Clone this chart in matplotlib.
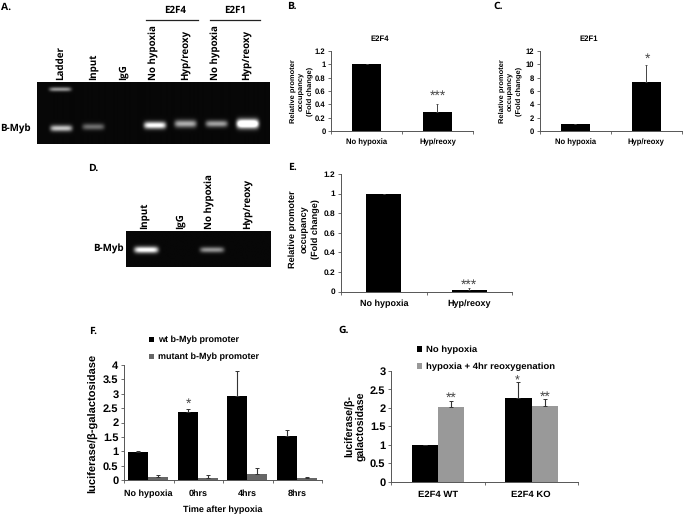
import matplotlib
matplotlib.use("Agg")
import matplotlib.pyplot as plt
import numpy as np

plt.rcParams["font.family"] = ["Liberation Sans", "DejaVu Sans"]
plt.rcParams["font.weight"] = "bold"
plt.rcParams["text.hinting"] = "no_hinting"

W, H = 683, 516

# bar data
cats_two = ["No hypoxia", "Hyp/reoxy"]
b_vals = [1, 0.28]
b_errs = [0, 0.12]
c_vals = [1, 7.4]
c_errs = [0, 2.5]
e_vals = [1, 0.02]
e_errs = [0, 0.02]

f_cats = ["No hypoxia", "0hrs", "4hrs", "8hrs"]
f_wt = [0.98, 2.38, 2.93, 1.54]
f_wt_err = [0.03, 0.1, 0.87, 0.2]
f_mut = [0.1, 0.08, 0.21, 0.06]
f_mut_err = [0.07, 0.1, 0.21, 0.05]

g_cats = ["E2F4 WT", "E2F4 KO"]
g_no = [1, 2.28]
g_no_err = [0, 0.42]
g_hyp = [2.03, 2.04]
g_hyp_err = [0.16, 0.2]

# gel bands: lane x, y, half width, half height, brightness (pixels of the figure)
gel_a_bands = [(60, 89, 11, 2.2, 0.55), (61, 128, 11, 3.2, 0.75), (93, 126.5, 11, 3.2, 0.4),
               (154.5, 125, 11, 3.6, 1.0), (185, 123.5, 11, 3.8, 0.65),
               (216, 123.5, 11, 3.4, 0.6), (247, 123.5, 11, 4.5, 1.4)]
gel_d_bands = [(145.5, 250, 12, 3.2, 1.0), (211, 250, 12, 2.8, 0.55)]


def px_axes(x0, y0, x1, y1):
    return fig.add_axes([x0 / W, 1 - y1 / H, (x1 - x0) / W, (y1 - y0) / H])


def style(ax, ymax, step_labels, size, n):
    ax.set_xlim(0, n)
    ax.set_ylim(0, ymax)
    ax.spines["top"].set_visible(False)
    ax.spines["right"].set_visible(False)
    for s in ["left", "bottom"]:
        ax.spines[s].set_color("#555555")
        ax.spines[s].set_linewidth(0.7)
    ax.set_yticks([float(t) for t in step_labels])
    ax.set_yticklabels(step_labels, fontsize=size)
    ax.set_xticks(range(n + 1))
    ax.set_xticklabels([])
    ax.tick_params(length=2, width=0.6, color="#555555", pad=2)


def two_bars(box, vals, errs, ymax, ticks, tick_size=5.5, cat_size=5.5, cat_off=0.09):
    ax = px_axes(*box)
    ax.bar([0.5, 1.5], vals, 0.41, color="black", yerr=[[0, 0], errs],
           ecolor="#444444", error_kw=dict(lw=0.7, capsize=1, capthick=0.6))
    style(ax, ymax, ticks, tick_size, 2)
    for i, c in enumerate(cats_two):
        ax.text(i + 0.5, -cat_off, c, transform=ax.get_xaxis_transform(), ha="center",
                va="top", fontsize=cat_size)
    return ax


def gel(x0, y0, x1, y1, bands):
    ax = px_axes(x0, y0, x1, y1)
    xs = np.arange(x0, x1, 0.5)
    ys = np.arange(y0, y1, 0.5)
    xx, yy = np.meshgrid(xs, ys)
    img = np.full(xx.shape, 0.03)
    for bx, by, hw, hh, b in bands:
        img += b * np.exp(-((xx - bx) / hw) ** 6) * np.exp(-((yy - by) / hh) ** 2)
    ax.imshow(img, cmap="gray", vmin=0, vmax=1, aspect="auto", interpolation="bilinear",
              extent=(x0, x1, y1, y0))
    ax.axis("off")


fig = plt.figure(figsize=(W / 100, H / 100), dpi=100)

# pixel overlay for the loose labels
ov = fig.add_axes([0, 0, 1, 1], zorder=10)
ov.set_xlim(0, W)
ov.set_ylim(H, 0)
ov.axis("off")
ov.patch.set_alpha(0)

gel(37, 82, 269.5, 144, gel_a_bands)
gel(125.5, 231, 270, 267, gel_d_bands)

for t, x, y in [("A.", 1, 7), ("B.", 287, 6), ("C.", 493, 6), ("D.", 88, 168),
                ("E.", 288, 167), ("F.", 89, 331), ("G.", 338, 330)]:
    ov.text(x, y, t, family="Open Sans", fontsize=7.5, weight="bold", ha="left", va="center")

lane_a = [("Ladder", 60, 80), ("Input", 93, 80), ("IgG", 123, 80), ("No hypoxia", 154, 80),
          ("Hyp/reoxy", 185, 80), ("No hypoxia", 216, 80), ("Hyp/reoxy", 246, 80)]
for t, x, y in lane_a:
    ov.text(x, y, t, family="Open Sans", fontsize=7, weight="bold", rotation=90,
            ha="center", va="bottom")
lane_d = [("Input", 144, 229), ("IgG", 180, 229), ("No hypoxia", 210, 229), ("Hyp/reoxy", 247, 229)]
for t, x, y in lane_d:
    ov.text(x, y, t, family="Open Sans", fontsize=7, weight="bold", rotation=90,
            ha="center", va="bottom")
ov.text(0, 128.5, "B-Myb", family="Open Sans", fontsize=7, weight="bold", va="center")
ov.text(93, 249.5, "B-Myb", family="Open Sans", fontsize=7, weight="bold", va="center")
ov.text(175, 10.5, "E2F4", family="Open Sans", fontsize=7, weight="bold", ha="center", va="center")
ov.text(235, 10, "E2F1", family="Open Sans", fontsize=7, weight="bold", ha="center", va="center")
ov.plot([146, 198], [19.5, 19.5], color="#222222", lw=0.9)
ov.plot([210, 259.5], [19.5, 19.5], color="#222222", lw=0.9)

# panels B, C, E
two_bars((331, 51, 473, 131), b_vals, b_errs, 1.2, ["0", "0.2", "0.4", "0.6", "0.8", "1", "1.2"])
two_bars((539.5, 51, 682, 131), c_vals, c_errs, 12, ["0", "2", "4", "6", "8", "10", "12"])
two_bars((341, 174, 512, 291.5), e_vals, e_errs, 1.2, ["0", "0.2", "0.4", "0.6", "0.8", "1", "1.2"],
         tick_size=6, cat_size=6.5, cat_off=0.07)

ylab = "Relative promoter\noccupancy\n(Fold change)"
ov.text(301, 91, ylab, rotation=90, fontsize=5.4, ha="center", va="center", linespacing=1.4)
ov.text(510, 91, ylab, rotation=90, fontsize=5.4, ha="center", va="center", linespacing=1.4)
ov.text(304, 229, ylab, rotation=90, fontsize=6.6, ha="center", va="center", linespacing=1.45)
ov.text(380, 39, "E2F4", fontsize=5.6, ha="center", va="center")
ov.text(589, 39, "E2F1", fontsize=5.6, ha="center", va="center")

# panel F
ax_f = px_axes(124, 365, 322, 480)
xf = np.arange(4)
kw = dict(lw=0.8, capsize=1.5, capthick=0.7)
wt_bars = ax_f.bar(xf + 0.285, f_wt, 0.405, color="black", yerr=[[0] * 4, f_wt_err], ecolor="#333333", error_kw=kw)
mut_bars = ax_f.bar(xf + 0.69, f_mut, 0.405, color="#666666", yerr=[[0] * 4, f_mut_err], ecolor="#333333", error_kw=kw)
style(ax_f, 4, ["0", "0.5", "1", "1.5", "2", "2.5", "3", "3.5", "4"], 8, 4)
for i, c in enumerate(f_cats):
    ax_f.text(i + 0.5, -0.08, c, transform=ax_f.get_xaxis_transform(), ha="center", va="top", fontsize=6.5)
ov.text(223, 510, "Time after hypoxia", fontsize=6.5, ha="center", va="center")
ov.text(93.5, 423, "luciferase/\u03b2-galactosidase", fontsize=8, rotation=90, ha="center", va="center")
fig.legend([wt_bars, mut_bars], ["wt b-Myb promoter", "mutant b-Myb promoter"],
           loc="upper left", bbox_to_anchor=(149 / W, 1 - 336 / H), frameon=False, fontsize=6.5,
           handlelength=0.55, handleheight=0.55, handletextpad=0.4, labelspacing=0.95, borderpad=0, borderaxespad=0)

# panel G
ax_g = px_axes(391, 371, 578, 481.5)
xg = np.arange(2)
no_bars = ax_g.bar(xg + 0.363, g_no, 0.285, color="black", yerr=[[0, 0], g_no_err], ecolor="#333333", error_kw=kw)
hyp_bars = ax_g.bar(xg + 0.645, g_hyp, 0.28, color="#999999", yerr=[[0, 0], g_hyp_err], ecolor="#333333", error_kw=kw)
style(ax_g, 3, ["0", "0.5", "1", "1.5", "2", "2.5", "3"], 8, 2)
for i, c in enumerate(g_cats):
    ax_g.text(i + 0.5, -0.08, c, transform=ax_g.get_xaxis_transform(), ha="center", va="top", fontsize=6.8)
ov.text(356, 426.5, "luciferase/\u03b2-\ngalactosidase", fontsize=7.6, rotation=90, ha="center", va="center", linespacing=1.1)
fig.legend([no_bars, hyp_bars], ["No hypoxia", "hypoxia + 4hr reoxygenation"],
           loc="upper left", bbox_to_anchor=(417 / W, 1 - 345.5 / H), frameon=False, fontsize=6.8,
           handlelength=0.55, handleheight=0.55, handletextpad=0.4, labelspacing=0.95, borderpad=0, borderaxespad=0)

# significance stars
stars = [("***", 438, 96, 10), ("*", 647, 59, 10), ("***", 469, 285, 10), ("*", 188, 404, 10),
         ("**", 451, 398, 10), ("*", 517, 381, 9), ("**", 545.5, 397, 10)]
for s, x, y, sz in stars:
    ov.text(x, y, s, fontsize=sz, ha="center", va="center", color="#444444", weight="normal")

fig.savefig("out.png", dpi=100)
